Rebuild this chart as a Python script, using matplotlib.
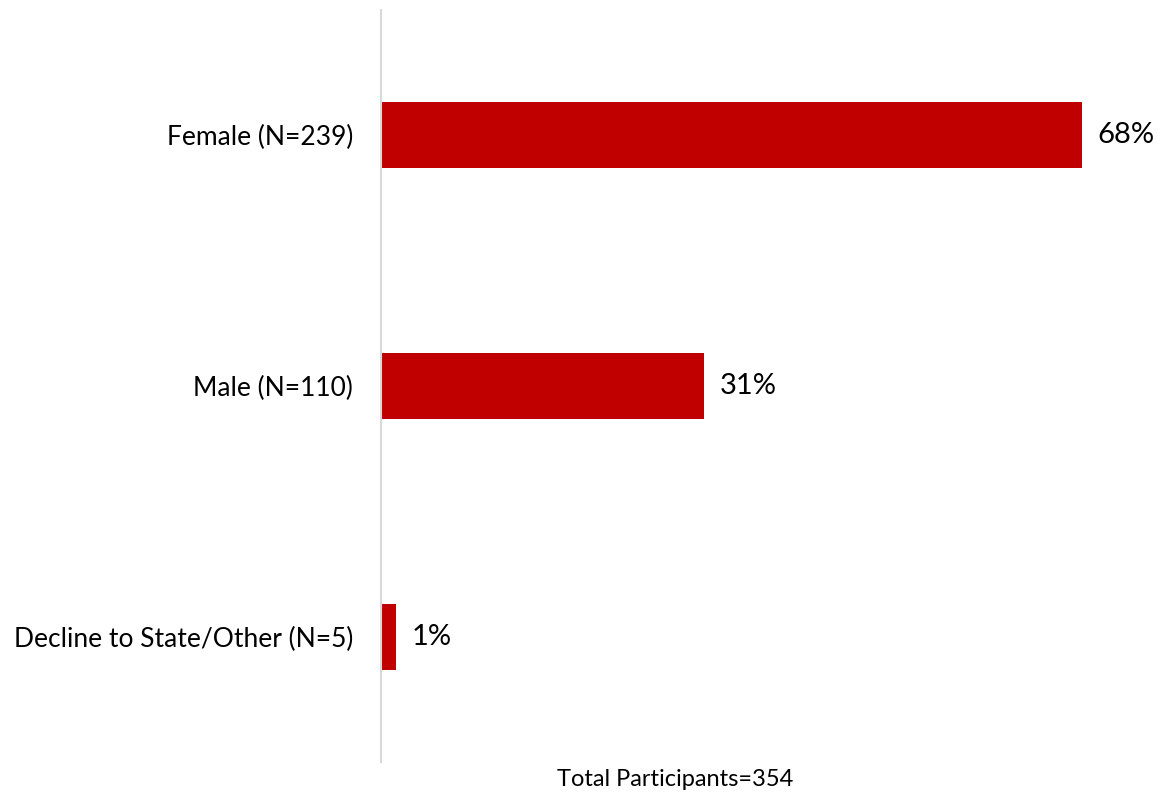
import matplotlib.pyplot as plt

# data
categories = ['Female (N=239)', 'Male (N=110)', 'Decline to State/Other (N=5)']
counts = [239, 110, 5]
total = 354
labels = ['68%', '31%', '1%']

pcts = [c / total * 100 for c in counts]

plt.rcParams['font.family'] = ['Lato', 'DejaVu Sans']

fig = plt.figure(figsize=(11.62, 7.96), dpi=100)
ax = fig.add_axes([381 / 1162, 34 / 796, 779 / 1162, 752 / 796])

ypos = list(range(len(categories)))
ax.barh(ypos, pcts, height=0.263, color='#C00000')
ax.set_ylim(2.5, -0.5)
ax.set_xlim(0, 75)

for y, p, lab in zip(ypos, pcts, labels):
    ax.text(p + 1.5, y, lab, va='center', ha='left', fontsize=21, color='#000000')

ax.set_yticks(ypos)
ax.set_yticklabels(categories, fontsize=19)
ax.tick_params(axis='y', length=0, pad=20)
ax.set_xticks([])

for s in ['top', 'right', 'bottom']:
    ax.spines[s].set_visible(False)
ax.spines['left'].set_color('#d9d9d9')
ax.spines['left'].set_linewidth(1.5)

fig.text(675 / 1162, 1 - 780 / 796, 'Total Participants=354', ha='center', va='center', fontsize=17)

fig.savefig('out.png', dpi=100)
